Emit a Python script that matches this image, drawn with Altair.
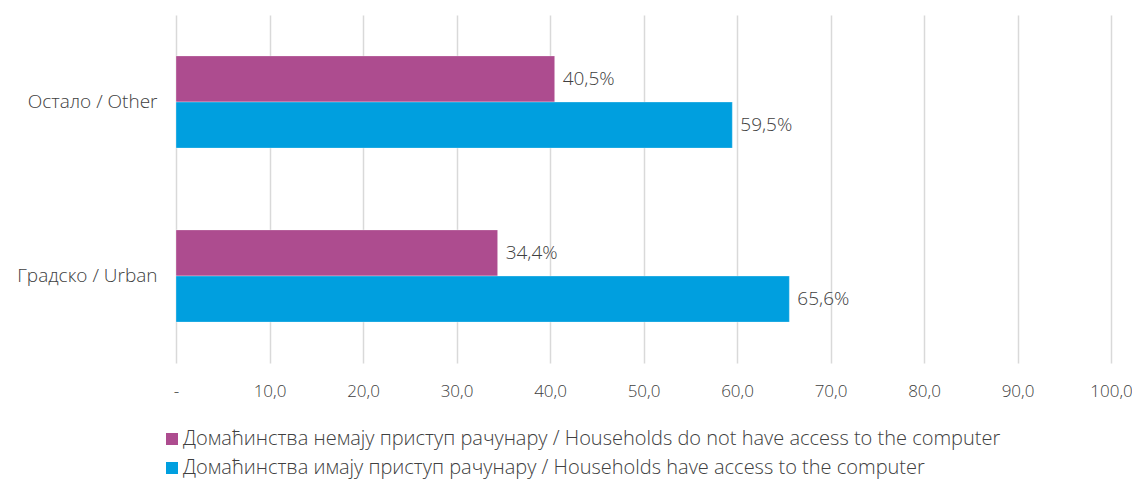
import altair as alt
import pandas as pd

categories = ["Остало / Other", "Градско / Urban"]
series = [
    "Домаћинства немају приступ рачунару / Households do not have access to the computer",
    "Домаћинства имају приступ рачунару / Households have access to the computer",
]
no_access = [40.5, 34.4]
access = [59.5, 65.6]
colors = ["#AD4C8F", "#009FDF"]

rows = []
for i, c in enumerate(categories):
    for s, vals in zip(series, [no_access, access]):
        v = vals[i]
        rows.append({"cat": c, "series": s, "value": v,
                     "label": f"{v:.1f}".replace(".", ",") + "%"})
df = pd.DataFrame(rows)

FONT = "Open Sans"
TXT = "#404040"
FW = 300

y_enc = alt.Y("cat:N", sort=categories, title=None,
              scale=alt.Scale(paddingInner=0.47, paddingOuter=0.235),
              axis=alt.Axis(domain=False, ticks=False, labelPadding=19,
                            labelFontSize=19, labelColor=TXT, labelFont=FONT,
                            labelFontWeight=FW))
yoff = alt.YOffset("series:N", sort=series)
x_enc = alt.X("value:Q", title=None,
              scale=alt.Scale(domain=[0, 100], nice=False),
              axis=alt.Axis(values=list(range(0, 101, 10)), domain=False, ticks=False,
                            grid=True, gridColor="#D9D9D9", gridWidth=1.5,
                            labelFlush=False, labelBound=False,
                            labelPadding=20, labelFontSize=17, labelColor=TXT, labelFont=FONT,
                            labelFontWeight=FW,
                            labelExpr="datum.value == 0 ? '-' : replace(format(datum.value, '.1f'), '.', ',')"))

bars = alt.Chart(df).mark_bar(stroke="white", strokeOpacity=0.3, strokeWidth=1).encode(
    x=x_enc, y=y_enc, yOffset=yoff,
    color=alt.Color("series:N", sort=series, title=None,
                    scale=alt.Scale(domain=series, range=colors),
                    legend=alt.Legend(orient="none", legendX=-14, legendY=414,
                                      direction="vertical", columns=1,
                                      symbolType="square", symbolSize=144,
                                      symbolStrokeWidth=0, labelFontSize=20,
                                      labelColor=TXT, labelFont=FONT, labelFontWeight=FW,
                                      labelOffset=1,
                                      rowPadding=9, padding=0, labelLimit=1000)),
)

labels = alt.Chart(df).mark_text(align="left", baseline="middle", dx=8,
                                 fontSize=19, color=TXT, font=FONT, fontWeight=FW).encode(
    x="value:Q", y=alt.Y("cat:N", sort=categories), yOffset=yoff, text="label:N"
)

chart = (bars + labels).properties(
    width=935, height=348,
    autosize=alt.AutoSizeParams(type="none"),
    padding={"left": 168, "top": 7, "right": 21, "bottom": 117},
).configure(background="white", view={"stroke": None})

chart.save("out.html", embed_options={"renderer": "svg", "actions": False})
